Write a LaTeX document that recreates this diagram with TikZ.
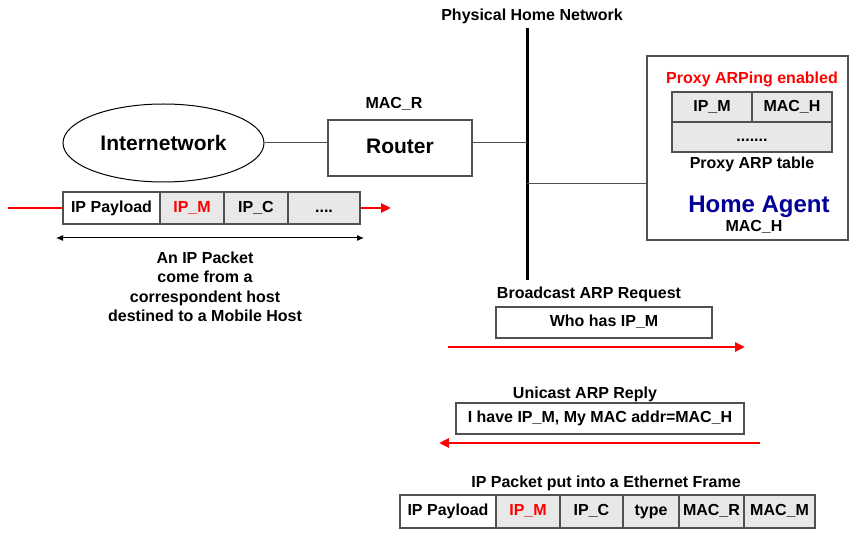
\documentclass[tikz,border=0pt]{standalone}
\usepackage{fontspec}
\setmainfont{Liberation Sans}
\usetikzlibrary{shapes.geometric,arrows.meta}
\definecolor{cellgray}{HTML}{E8E8E8}
\definecolor{edgegray}{HTML}{505050}
\definecolor{hablue}{HTML}{000099}
\begin{document}
\begin{tikzpicture}[x=1pt,y=-1pt,
  txt/.style={font=\fontsize{16}{19.5}\selectfont\bfseries, inner sep=0pt, align=center},
  cell/.style={draw=edgegray, line width=1.2pt, fill=cellgray, inner sep=0pt, text height=11.5pt, text depth=3.4pt, font=\fontsize{16}{19}\selectfont\bfseries},
  wcell/.style={cell, fill=white},
  boxstyle/.style={draw=edgegray, line width=1.2pt, fill=white, inner sep=0pt},
  link/.style={draw=edgegray, line width=1pt},
  redarrow/.style={draw=red, line width=2.5pt, -{Triangle[length=10pt,width=9pt]}},
  redline/.style={draw=red, line width=2.5pt}]
\useasboundingbox (0,0) rectangle (849,534);

% bus
\coordinate (busT) at (527,28);
\coordinate (busB) at (527,280);
\coordinate (busR) at (527,143);
\coordinate (busH) at (527,184);
\draw[line width=3pt] (busT) -- (busB);
\node[txt] (phn) at (532,16) {Physical Home Network};

% internetwork and router
\node[ellipse, draw=black, line width=1pt, minimum width=201pt, minimum height=78pt, inner sep=0pt,
      font=\fontsize{21}{24}\selectfont\bfseries] (inet) at (163.5,143) {Internetwork};
\node[boxstyle, minimum width=144pt, minimum height=56pt, text height=15pt, text depth=4.4pt, font=\fontsize{21}{24}\selectfont\bfseries] (rt) at (400,148) {Router};
\node[txt] (macr) at (394,104) {MAC\_R};
\draw[link] (inet.east) -- (inet.east -| rt.west);
\draw[link] (rt.east |- busR) -- (busR);

% home agent
\node[boxstyle, minimum width=201pt, minimum height=184pt] (ha) at (747.5,148) {};
\draw[link] (busH) -- (ha.west |- busH);
\node[txt, text=red] (pae) at (752,79) {Proxy ARPing enabled};
\node[cell, minimum width=80pt, minimum height=30pt] (t1) at (712,107) {IP\_M};
\node[cell, minimum width=80pt, minimum height=30pt] (t2) at (792,107) {MAC\_H};
\node[cell, minimum width=160pt, minimum height=30pt] (t3) at (752,137) {.......};
\node[txt] (pat) at (752,164) {Proxy ARP table};
\node[txt, text=hablue, font=\fontsize{24}{28}\selectfont\bfseries] (hag) at (759,206.5) {Home Agent};
\node[txt] (mach) at (754,227) {MAC\_H};

% IP packet
\node[wcell, minimum width=97pt, minimum height=32pt] (p1) at (111.5,208) {IP Payload};
\node[cell, minimum width=64pt, minimum height=32pt, text=red] (p2) at (192,208) {IP\_M};
\node[cell, minimum width=64pt, minimum height=32pt] (p3) at (256,208) {IP\_C};
\node[cell, minimum width=72pt, minimum height=32pt] (p4) at (324,208) {....};
\coordinate (inL) at (8,208);
\coordinate (outR) at (391,208);
\draw[redline] (inL) -- (p1.west);
\draw[redarrow] (p4.east) -- (outR);
\coordinate (da1) at (56,238);
\coordinate (da2) at (364,238);
\draw[line width=1pt, {Latex[length=7pt,width=6pt]}-{Latex[length=7pt,width=6pt]}] (da1) -- (da2);
\node[txt] (desc) at (205,287) {An IP Packet\\come from a\\correspondent host\\destined to a Mobile Host};

% ARP request
\node[txt] (brq) at (589,294) {Broadcast ARP Request};
\node[boxstyle, minimum width=216pt, minimum height=31pt, text height=11.5pt, text depth=3.4pt, font=\fontsize{16}{19}\selectfont\bfseries] (req) at (604,322.5) {Who has IP\_M};
\coordinate (rqA) at (448,347);
\coordinate (rqB) at (745,347);
\draw[redarrow] (rqA) -- (rqB);

% ARP reply
\node[txt] (urp) at (585,394) {Unicast ARP Reply};
\node[boxstyle, minimum width=288pt, minimum height=31pt, text height=11.5pt, text depth=3.4pt, font=\fontsize{16}{19}\selectfont\bfseries] (rep) at (600,418.5) {I have IP\_M, My MAC addr=MAC\_H};
\coordinate (rpA) at (760,443);
\coordinate (rpB) at (439,443);
\draw[redarrow] (rpA) -- (rpB);

% Ethernet frame
\node[txt] (eft) at (606,483) {IP Packet put into a Ethernet Frame};
\node[wcell, minimum width=96pt, minimum height=33pt] (f1) at (448,511.5) {IP Payload};
\node[cell, minimum width=64pt, minimum height=33pt, text=red] (f2) at (528,511.5) {IP\_M};
\node[cell, minimum width=63pt, minimum height=33pt] (f3) at (591.5,511.5) {IP\_C};
\node[cell, minimum width=56pt, minimum height=33pt] (f4) at (651,511.5) {type};
\node[cell, minimum width=65pt, minimum height=33pt] (f5) at (711.5,511.5) {MAC\_R};
\node[cell, minimum width=71pt, minimum height=33pt] (f6) at (779.5,511.5) {MAC\_M};
\end{tikzpicture}
\end{document}
